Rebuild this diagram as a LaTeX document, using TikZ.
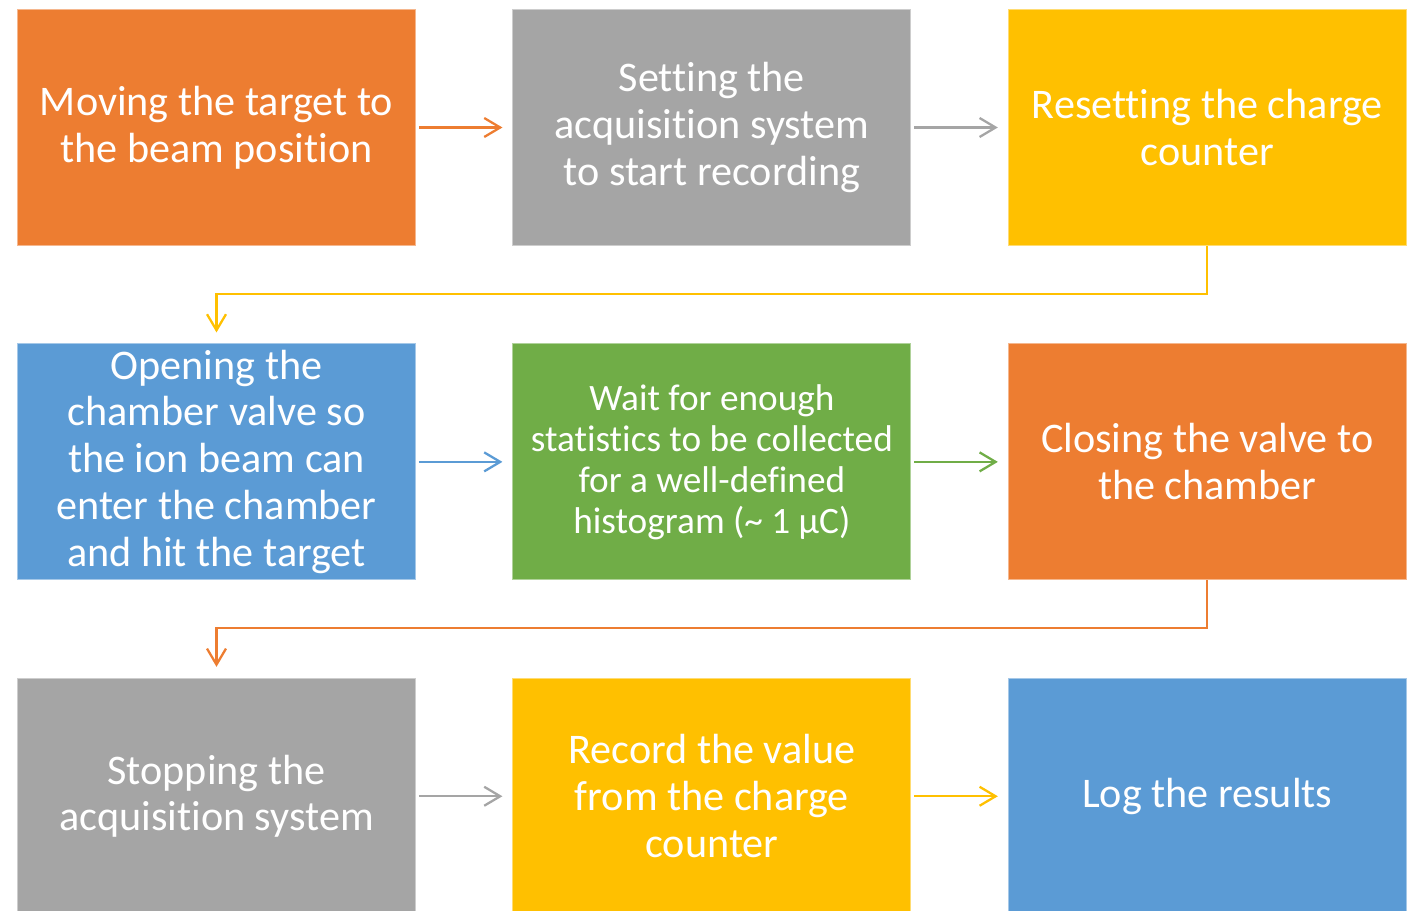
\documentclass[tikz,border=0pt]{standalone}
\usepackage{fontspec}
\setmainfont{Carlito}[Ligatures=NoCommon]
\usetikzlibrary{positioning,arrows.meta}

\definecolor{cOrange}{HTML}{ED7D31}
\definecolor{cGray}{HTML}{A5A5A5}
\definecolor{cGold}{HTML}{FFC000}
\definecolor{cBlue}{HTML}{5B9BD5}
\definecolor{cGreen}{HTML}{70AD47}

\begin{document}
\begin{tikzpicture}[
    box/.style={fill=#1, draw=#1!55!white, line width=0.5pt,
        minimum width=7.96cm, minimum height=4.72cm, inner sep=2pt,
        text=white, align=center, font=\fontsize{24}{26.7}\selectfont},
    arr/.style={draw=#1, line width=1.3pt,
        -{Straight Barb[length=3.2mm,width=3.8mm]}},
    node distance=1.95cm and 1.93cm]
    % 全体の大きさ
    \useasboundingbox (0,0) rectangle (28.32,-18.22);

    % 1段目
    \node[box=cOrange] (a) at (4.33,-2.55) {Moving the target to\\the beam position};
    \node[box=cGray, right=of a] (b) {Setting the\\acquisition system\\to start recording};
    \node[box=cGold, right=of b] (c) {Resetting the charge\\counter};

    % 2段目
    \node[box=cBlue, below=of a] (d) {Opening the\\chamber valve so\\the ion beam can\\enter the chamber\\and hit the target};
    \node[box=cGreen, right=of d, font=\fontsize{21.2}{23.3}\selectfont] (e) {Wait for enough\\statistics to be collected\\for a well-defined\\histogram (\textasciitilde{} 1 µC)};
    \node[box=cOrange, right=of e] (f) {Closing the valve to\\the chamber};

    % 3段目
    \node[box=cGray, below=of d] (g) {Stopping the\\acquisition system};
    \node[box=cGold, right=of g] (h) {Record the value\\from the charge\\counter};
    \node[box=cBlue, right=of h] (i) {Log the results};

    % 横の矢印
    \foreach \s/\t/\col in {a/b/cOrange, b/c/cGray, d/e/cBlue, e/f/cGreen, g/h/cGray, h/i/cGold} {
        \draw[arr=\col] ([xshift=0.06cm]\s.east) -- ([xshift=-0.2cm]\t.west);
    }

    % 段の折り返し
    \draw[arr=cGold] (c.south) -- ++(0,-0.96) -| ([yshift=0.22cm]d.north);
    \draw[arr=cOrange] (f.south) -- ++(0,-0.96) -| ([yshift=0.22cm]g.north);
\end{tikzpicture}
\end{document}
